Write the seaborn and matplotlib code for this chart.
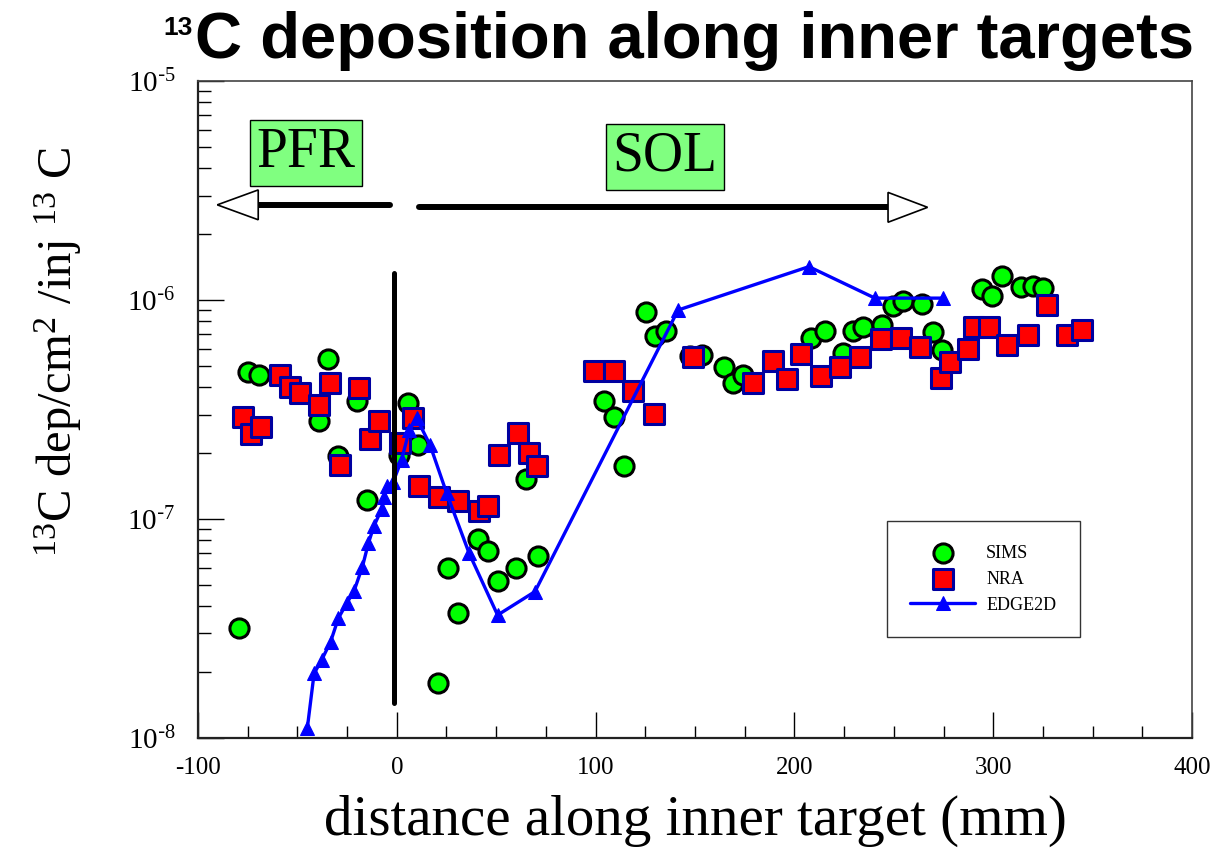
import numpy as np
import matplotlib
matplotlib.use("Agg")
import matplotlib.pyplot as plt
from matplotlib.patches import Polygon
from matplotlib.ticker import MultipleLocator, LogLocator, NullFormatter, FuncFormatter
import seaborn as sns

# SIMS measurements (distance in mm, 13C dep/cm2/inj 13C)
sims_x = [-79.2, -74.7, -69.2, -39.1, -34.4, -29.4, -20.2, -14.9, 0.9, 5.5, 10.8,
          20.5, 25.9, 30.9, 40.6, 45.7, 50.7, 60.0, 65.0, 70.9, 104.4, 109.3, 114.3,
          125.4, 129.9, 135.4, 147.7, 153.3, 164.7, 169.2, 174.3, 208.6, 215.6, 224.2,
          229.6, 234.6, 243.9, 249.7, 254.4, 264.4, 269.5, 274.0, 294.6, 299.6, 304.2,
          314.2, 319.8, 324.8]
sims_y = [3.17e-8, 4.71e-7, 4.55e-7, 2.81e-7, 5.36e-7, 1.93e-7, 3.44e-7, 1.22e-7, 1.96e-7,
          3.37e-7, 2.18e-7, 1.79e-8, 5.96e-8, 3.71e-8, 8.07e-8, 7.16e-8, 5.21e-8, 5.96e-8,
          1.52e-7, 6.80e-8, 3.46e-7, 2.93e-7, 1.75e-7, 8.86e-7, 6.86e-7, 7.22e-7, 5.55e-7,
          5.61e-7, 4.96e-7, 4.20e-7, 4.55e-7, 6.69e-7, 7.21e-7, 5.71e-7, 7.21e-7, 7.50e-7,
          7.69e-7, 9.40e-7, 9.89e-7, 9.59e-7, 7.16e-7, 5.91e-7, 1.12e-6, 1.04e-6, 1.29e-6,
          1.15e-6, 1.16e-6, 1.13e-6]

# NRA measurements
nra_x = [-77.5, -73.5, -68.5, -58.8, -53.7, -48.7, -39.0, -33.6, -28.6, -18.9, -13.5,
         -8.8, 1.6, 8.3, 11.3, 21.4, 30.9, 41.5, 46.0, 51.4, 61.1, 66.6, 70.7, 99.4,
         109.3, 118.6, 129.4, 149.1, 179.0, 189.1, 196.1, 203.3, 213.2, 222.9, 233.0,
         243.4, 253.7, 263.2, 273.5, 278.3, 287.4, 290.3, 298.0, 307.1, 317.3, 327.2,
         337.3, 344.5]
nra_y = [2.93e-7, 2.44e-7, 2.62e-7, 4.55e-7, 3.99e-7, 3.75e-7, 3.32e-7, 4.17e-7, 1.77e-7,
         3.95e-7, 2.31e-7, 2.81e-7, 2.22e-7, 2.88e-7, 1.41e-7, 1.26e-7, 1.21e-7, 1.09e-7,
         1.15e-7, 1.96e-7, 2.46e-7, 2.01e-7, 1.75e-7, 4.74e-7, 4.74e-7, 3.84e-7, 3.01e-7,
         5.47e-7, 4.20e-7, 5.26e-7, 4.35e-7, 5.65e-7, 4.50e-7, 4.96e-7, 5.51e-7, 6.61e-7,
         6.69e-7, 6.08e-7, 4.39e-7, 5.22e-7, 5.95e-7, 7.55e-7, 7.55e-7, 6.24e-7, 6.92e-7,
         9.48e-7, 6.92e-7, 7.30e-7]

# EDGE2D simulation
edge_x = [-45.0, -41.6, -37.8, -33.3, -29.4, -25.2, -21.5, -17.3, -14.3, -11.5, -7.6,
          -6.3, -4.8, -1.8, 2.4, 6.3, 10.0, 16.7, 25.1, 36.4, 50.7, 69.5, 141.5, 207.3,
          240.5, 274.5]
edge_y = [1.11e-8, 1.97e-8, 2.27e-8, 2.75e-8, 3.52e-8, 4.12e-8, 4.69e-8, 6.05e-8, 7.74e-8,
          9.29e-8, 1.11e-7, 1.26e-7, 1.41e-7, 1.48e-7, 1.86e-7, 2.55e-7, 2.88e-7, 2.18e-7,
          1.31e-7, 6.97e-8, 3.64e-8, 4.66e-8, 9.0e-7, 1.42e-6, 1.02e-6, 1.02e-6]

sns.set_style("white")
plt.rcParams['font.family'] = ['Liberation Serif', 'DejaVu Serif']
plt.rcParams['text.color'] = 'black'
plt.rcParams['axes.labelcolor'] = 'black'
plt.rcParams['xtick.color'] = 'black'
plt.rcParams['ytick.color'] = 'black'
plt.rcParams['axes.unicode_minus'] = False

fig = plt.figure(figsize=(12.29, 8.63), dpi=100)
ax = fig.add_axes([0.1611, 0.1449, 0.8088, 0.7612])

sns.scatterplot(x=sims_x, y=sims_y, ax=ax, marker='o', s=190, color='#00ff00',
                edgecolor='black', linewidth=2.2, label='SIMS', zorder=3)
sns.scatterplot(x=nra_x, y=nra_y, ax=ax, marker='s', s=190, color='#ff0000',
                edgecolor='#0000a0', linewidth=2.2, label='NRA', zorder=4)
sns.lineplot(x=edge_x, y=edge_y, ax=ax, sort=False, estimator=None, color='#0000ff',
             linewidth=2.4, marker='^', markersize=10, markeredgecolor='#0000ff',
             label='EDGE2D', zorder=5)

ax.set_yscale('log')
ax.set_xlim(-100, 400)
ax.set_ylim(1e-8, 1e-5)

# separatrix strike point
ax.plot([-1.3, -1.3], [1.45e-8, 1.33e-6], color='black', lw=3.6, solid_capstyle='round', zorder=6)

# PFR / SOL arrows
ax.plot([-3.4, -69.7], [2.72e-6, 2.72e-6], color='black', lw=4.3, solid_capstyle='round', zorder=6)
ax.plot([11.2, 247.1], [2.65e-6, 2.65e-6], color='black', lw=4.3, solid_capstyle='round', zorder=6)
f = 1.17
ax.add_patch(Polygon([[-69.7, 2.72e-6 * f], [-90.3, 2.72e-6], [-69.7, 2.72e-6 / f]],
                     closed=True, fc='white', ec='black', lw=1.2, zorder=7))
ax.add_patch(Polygon([[247.1, 2.65e-6 * f], [267.0, 2.65e-6], [247.1, 2.65e-6 / f]],
                     closed=True, fc='white', ec='black', lw=1.2, zorder=7))

box = dict(boxstyle='square,pad=0.12', fc='#80ff80', ec='black', lw=1.0)
ax.text(-45.6, 5.0e-6, 'PFR', fontsize=40, ha='center', va='center_baseline', bbox=box, zorder=8)
ax.text(134.9, 4.8e-6, 'SOL', fontsize=40, ha='center', va='center_baseline', bbox=box, zorder=8)

# axes styling
ax.xaxis.set_major_locator(MultipleLocator(100))
ax.xaxis.set_minor_locator(MultipleLocator(25))
ax.yaxis.set_major_locator(LogLocator(base=10))
ax.yaxis.set_major_formatter(FuncFormatter(
    lambda v, pos: r'$\mathdefault{10^{\text{-}%d}}$' % round(-np.log10(v))))
ax.yaxis.set_minor_locator(LogLocator(base=10, subs=np.arange(2, 10)))
ax.yaxis.set_minor_formatter(NullFormatter())
ax.tick_params(axis='both', which='both', direction='in', top=False, right=False,
               bottom=True, left=True, color='black', width=1.0)
ax.tick_params(axis='both', which='major', length=19)
ax.tick_params(axis='both', which='minor', length=9)
ax.tick_params(axis='x', which='major', labelsize=18, pad=14)
ax.tick_params(axis='y', which='major', labelsize=21, pad=16)
for side in ['left', 'bottom']:
    ax.spines[side].set_color('#222222')
    ax.spines[side].set_linewidth(1.6)
for side in ['top', 'right']:
    ax.spines[side].set_color('#444444')
    ax.spines[side].set_linewidth(1.2)

ax.set_xlabel('distance along inner target (mm)', fontsize=41, labelpad=11)
ax.set_ylabel('')
fig.text(58 / 1229, 1 - 352 / 863,
         r'$\mathdefault{^{13}}$C dep/cm$\mathdefault{^{2}}$ /inj $\mathdefault{^{13}}$ C',
         rotation=90, ha='center', va='center', fontsize=35)

# title: small bold superscript + main text
fig.text(195 / 1229, 1 - 58 / 863, 'C deposition along inner targets',
         ha='left', va='baseline', fontsize=47, fontweight='bold',
         family=['Liberation Sans', 'DejaVu Sans'])
fig.text(193 / 1229, 1 - 35 / 863, '13', ha='right', va='baseline', fontsize=19,
         fontweight='bold', family=['Liberation Sans', 'DejaVu Sans'])

leg = ax.legend(loc='upper left', bbox_to_anchor=(0.693, 0.330), frameon=True, fancybox=False,
                fontsize=13, borderpad=1.3, labelspacing=0.5, handlelength=3.6,
                handletextpad=0.6, borderaxespad=0)
leg.get_frame().set_edgecolor('black')
leg.get_frame().set_linewidth(1.0)
leg.set_zorder(10)

fig.savefig('out.png', dpi=100)
